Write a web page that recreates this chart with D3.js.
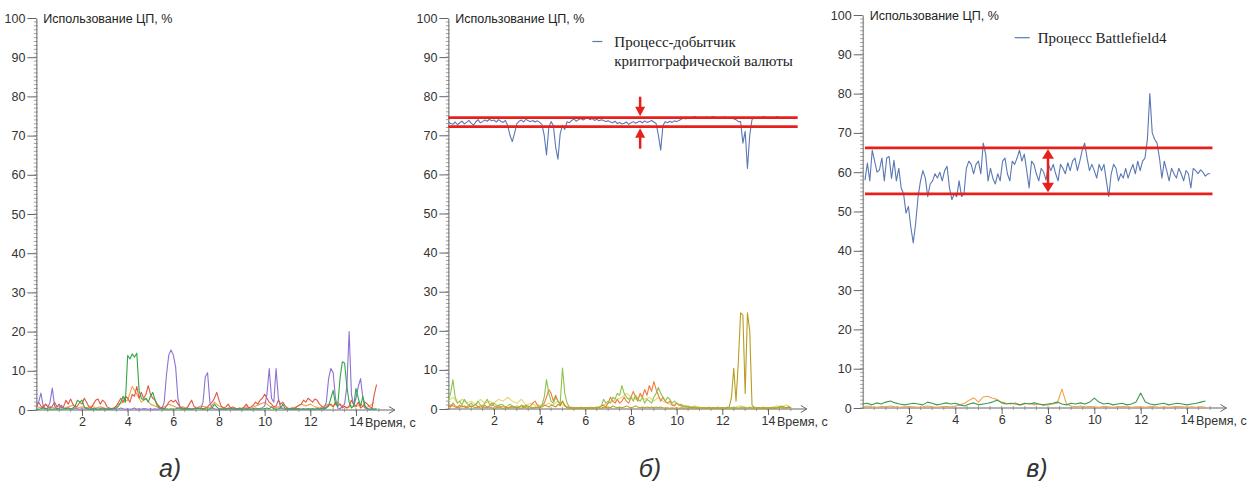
<!DOCTYPE html>
<html>
<head>
<meta charset="utf-8">
<script src="https://cdn.jsdelivr.net/npm/d3@7"></script>
<style>
  body { margin: 0; background: #fff; }
  svg { display: block; }
  .axis text { font-family: "Liberation Sans", Arial, sans-serif; font-size: 12.5px; fill: #333; }
  .axis line, .axis path { stroke: #666; }
</style>
</head>
<body>
<script>
// ---- data ----
var xTicks = [2, 4, 6, 8, 10, 12, 14];
var yTicks = [0, 10, 20, 30, 40, 50, 60, 70, 80, 90, 100];
var yTitle = "Использование ЦП, %";
var xTitle = "Время, с";
var panelLabels = ["а)", "б)", "в)"];
var minerName = ["Процесс-добытчик", "криптографической валюты"];
var gameName = "Процесс Battlefield4";
var minerBand = [72.2, 74.5];
var gameBand = [54.5, 66.2];

// panel a, samples every 0.1 s from 0 s
var aPurple = [0.5,2,4.3,1,0.3,0.5,2,5.6,1,0.3, 0.5,1.2,0.4,0.3,0.6,0.3,0.2,0.5,0.3,0.2,
  0.3,0.2,0.5,0.3,0.2,0.4,0.3,0.2,0.3,0.5, 0.2,0.3,0.2,0.4,0.3,0.2,0.3,0.5,0.3,0.2,
  0.3,0.2,0.3,0.5,0.2,0.3,0.2,0.4,0.3,0.2, 0.3,0.2,0.3,0.2,0.4,0.3,2,9,14,15.3,
  14,11,3,0.5,0.3,0.2,0.4,0.3,0.2,0.3, 0.3,0.5,0.3,2,8.5,9.5,2,0.5,0.3,0.2,
  0.2,0.3,0.2,0.3,0.2,0.4,0.3,0.2,0.3,0.2, 0.3,0.2,0.4,0.3,0.2,0.3,0.5,0.3,0.4,0.6,
  1,4,10.6,3,2,10.6,3,0.5,0.3,0.2, 0.3,0.2,0.3,0.2,0.4,0.3,0.2,0.3,0.2,0.3,
  0.2,0.3,0.2,0.4,0.3,0.5,0.3,2,8,10.6, 9.5,3,0.5,0.3,1,1.5,6,20,4,1,
  3,6,8,3,0.5,0.3,0.2,0.3,0.2,0.3];
var aGreen = [0.3,0.2,0.3,0.5,0.3,0.2,0.3,0.2,0.3,0.2, 0.3,0.2,0.3,0.4,0.3,0.2,0.5,1,2.5,2,
  2.5,0.8,0.3,0.2,0.3,0.2,0.3,0.2,0.3,0.2, 0.3,0.2,0.3,0.2,0.3,0.5,1,2,3.5,2,
  13.9,13,14.3,13.5,14.5,5,3,2.5,3,2, 3.5,4.5,2.5,1,0.5,0.3,0.2,0.3,0.2,0.3,
  0.2,0.3,0.5,0.3,0.2,0.3,0.2,0.3,0.2,0.3, 0.3,0.5,0.3,0.2,0.3,0.2,0.3,0.5,1.5,0.8,
  0.3,0.2,0.3,0.2,0.5,0.3,0.2,0.3,0.2,0.3, 0.2,0.3,0.2,0.3,0.2,0.3,0.2,0.3,0.2,0.3,
  0.3,0.5,0.3,0.8,0.3,0.2,0.3,0.5,1.5,0.3, 0.2,0.3,0.2,0.3,0.2,0.3,0.2,0.3,0.2,0.3,
  0.2,0.3,0.2,0.3,0.2,0.3,0.2,0.5,1,3, 5,1.5,1,8,12.3,12,6,2,0.5,1,
  5.5,3,1,3.5,1,0.3,0.2,0.3,0.2,0.3];
var aRed = [1,2,1,0.5,1.5,0.8,0.5,1,2,0.8, 1.5,0.5,1,2.5,1.5,2.8,1.5,0.8,1,2,
  1.5,3,2,0.8,0.5,1.5,2.5,2.8,1.5,2.5, 2,0.8,0.5,0.3,0.5,1,2,3,2,3.5,
  3,2,4,3.5,6,3,4.5,3,4,6.2, 4,3,2.5,1.5,0.8,0.5,0.3,1,2,2.5,
  2,2.5,1.5,0.8,0.5,0.3,0.5,1.5,2.5,1, 0.5,0.3,0.5,0.3,0.5,0.8,1.5,2,3,4.5,
  2.5,1,0.5,0.8,1.5,0.5,0.8,0.5,0.3,0.5, 0.3,0.8,1.5,0.5,0.8,1.2,2,1.5,2.5,3,
  4,3,2,1.5,0.8,1,2.5,1.5,2,1, 0.5,0.3,0.5,0.3,0.8,1.2,1.5,2.5,2,3,
  2.5,2,2.8,2.5,1.5,1,0.5,0.8,1.2,1.5, 0.8,2,1,1.5,0.5,1,0.5,1,2.5,1.5,
  1,2,0.5,1,2,1.5,0.8,0.5,4,6.5];
// every 0.2 s
var aOrange = [1,0.5,1.5,0.8,0.5,1,0.5,0.8,1.2,0.5, 0.8,0.5,1,0.5,0.8,0.5,0.3,0.5,1.5,2,
  2.5,6,4,2,3,1.5,1,0.5,0.8,1.5, 1,0.5,0.8,0.5,0.3,0.5,1,0.8,0.5,2,
  1,0.5,0.3,0.5,0.3,0.5,0.8,0.5,1,1.5, 2,1,0.5,0.8,0.5,0.3,0.5,0.8,1.5,1,
  1.5,0.8,0.5,1,1.5,0.8,2,1,0.5,1, 0.8,1.5,0.5,1,2];

// panel b, miner process every 0.1 s from 0 s
var bBlue = [73.5,73,72.8,73.4,72.7,73.2,73.6,72.9,73.3,73.8, 73.1,72.6,73.4,74,73.2,73.5,73.9,73.6,74.1,73.7,
  73.9,73.4,74,73.6,73.3,73.8,72.5,70,68.4,70.5, 73,73.6,73.9,73.4,74.1,73.7,73.5,73.8,73.4,73.7,
  73.3,72.8,70,65,72,73.5,72.5,67,63.9,70.5, 72.5,71.5,73.5,73.2,73.8,74.2,73.6,74,74.3,73.9,
  74.2,74.5,74,74.3,73.8,74.1,73.7,74,73.8,73.5, 73.7,73.4,73.2,73.6,73,73.3,72.9,73.1,73.4,72.8,
  73.2,73.5,73.1,73.4,73.6,73.2,73.7,73.3,73.5,73.8, 73.4,73,70,66.2,72.5,73.5,73.2,73.6,73.3,73.7,
  73.5,73.8,74.1,74.4,74.2,74.6,74.3,74.5,74.8,74.4, 74.6,74.3,74.5,74.7,74.4,74.6,74.8,74.5,74.3,74.6,
  74.4,74.7,74.5,74.3,74.6,74.2,74,73.5,73.5,68, 71,61.5,70,74,74.5,74.3,74.6,74.4,74.8,74.5,
  74.3,74.6,74.4,74.5,74.8,74.3,74.5,74.6,74.4,74.5, 74.6,74.4,74.5];
var bOlive = [0.5,1,0.8,0.5,0.3,0.5,0.8,0.5,0.3,0.5, 0.8,0.5,0.3,0.5,0.3,0.2,0.5,0.3,0.5,0.3,
  0.2,0.3,0.5,0.3,0.2,0.3,0.2,0.3,0.5,0.3, 0.2,0.3,0.2,0.5,0.3,0.2,0.3,0.2,0.3,0.5,
  0.3,0.5,1,0.8,0.5,1,0.8,0.5,1.2,0.8, 2,0.8,0.3,0.2,0.3,0.2,0.3,0.2,0.3,0.2,
  0.3,0.2,0.3,0.2,0.3,0.2,0.3,0.2,0.5,0.3, 0.5,0.3,0.8,0.5,0.3,0.5,0.3,0.5,0.8,0.5,
  0.3,0.5,0.8,0.5,0.3,0.5,0.3,0.5,0.3,0.5, 0.3,0.5,0.3,0.5,0.3,0.2,0.3,0.2,0.3,0.2,
  0.3,0.2,0.3,0.2,0.3,0.2,0.3,0.2,0.3,0.2, 0.3,0.2,0.3,0.2,0.3,0.2,0.3,0.2,0.3,0.2,
  0.3,0.2,0.3,0.5,3,10.4,2,12,24.6,24, 4,24.6,20,1,0.3,0.2,0.3,0.2,0.3,0.2,
  0.3,0.2,0.3,0.2,0.3,0.5,0.8,0.5,0.3,0.5, 0.3];
var bGreen = [2,4,7.5,3,1.5,2,1,2.5,1.5,1, 1.5,0.8,1.2,2,1,0.8,1.5,2.5,1.2,0.8,
  1.5,1,0.8,1.2,1,0.5,0.8,1.2,0.8,0.5, 0.8,0.5,1,0.8,0.5,0.8,0.5,0.3,0.5,0.3,
  0.5,1,3,7.5,4,2,1.5,3,2,1.5, 10.5,4,1.5,0.5,0.3,0.2,0.3,0.2,0.3,0.2,
  0.3,0.2,0.3,0.2,0.3,0.5,0.3,0.8,2.5,1.5, 2,1.5,3,2.5,4,3.5,6,4,3,2.5,
  3,2,3.5,2.5,2,3,1.5,2.5,2,1.5, 3,4,5.5,4,3,2,3,2.5,1.5,2,
  1.5,1,1.2,0.8,0.5,0.8,0.5,0.3,0.5,0.3, 0.3,0.2,0.3,0.2,0.3,0.2,0.3,0.2,0.3,0.2,
  0.3,0.2,0.3,0.2,0.3,0.5,0.3,0.2,0.3,0.5, 0.3,0.2,0.5,0.3,0.2,0.3,0.2,0.3,0.2,0.3,
  0.2,0.3,0.2,0.3,0.2,0.3,0.5,0.3,0.2,0.3, 0.2];
var bOrange = [1,0.5,1.5,0.8,0.5,1,0.5,0.8,0.5,1, 0.5,0.8,1.2,0.5,0.8,0.5,1,0.5,0.8,1.5,
  0.8,0.5,1,0.5,0.8,0.5,0.3,0.5,0.8,0.5, 0.3,0.5,0.8,0.5,1,0.5,0.8,1.5,2,1,
  0.5,1,1.5,3,5,4,2,3.5,2,1, 2,1,0.5,0.3,0.2,0.3,0.2,0.3,0.2,0.3,
  0.2,0.3,0.2,0.3,0.2,0.3,0.5,0.8,1,0.5, 1.5,3,2,1.5,2.5,1.5,2,3,2,1.5,
  3,4.5,3,2,4,3,5,3.5,6,4.5, 7,5,3.5,2,3,2,1.5,2,1,0.8,
  1.5,1,0.8,0.5,0.8,0.5,0.3,0.5,0.3,0.2, 0.3,0.2,0.3,0.2,0.3,0.2,0.3,0.2,0.3,0.2,
  0.3,0.2,0.3,0.2,0.3,0.2,0.3,0.2,0.3,0.2, 0.3,0.2,0.3,0.2,0.3,0.2,0.3,0.2,0.3,0.2,
  0.3,0.2,0.3,0.2,0.3,0.5,0.3,0.2,0.3,0.5, 0.3];
// every 0.2 s
var bYellow = [2,3,1.5,2.5,1.5,2,1,2.5,1.5,2, 1.5,2.5,2,3,2,1.5,2.5,1,1.5,1,
  1,0.8,1.5,1,2,1,0.5,0.5,0.3,0.5, 0.3,0.5,0.3,0.5,1,1.5,2,2.5,3,4,
  3,2.5,3.5,2.5,3,2,3,2,1.5,1, 1.5,1,0.8,0.5,0.8,0.5,0.3,0.5,0.3,0.5,
  0.3,0.5,0.3,0.5,0.8,0.5,0.3,0.5,0.3,0.5, 0.3,0.5,0.8,0.5,1,0.5];

// panel c, Battlefield4 process, evenly spaced from 0.1 s to 15.0 s
var cBlue = [58,62.3,57.8,65.6,62.8,60,60.6,63.6,57.8,63.6, 64,58.4,63,57.8,61,56,54.5,49.6,51.3,46,
  42,47,53.8,57.8,60.4,58.5,53.8,57,57.8,59.6, 58.5,60,57.8,60.4,61.5,56,53,54.5,53.8,57.8,
  53.8,54.5,61,62.8,62,59.6,62,62.8,59.6,67.4, 64.6,57.8,61,58.4,57,59.6,57.8,62.8,63.6,59.6,
  57.8,62.8,62,63.6,65.6,62.8,64.6,60.4,56,62.8, 62,
  59.6,57.8,61,60,58,62,60.4,62,59.6,57.8, 62,61,59.6,62.4,60.4,62.8,63.6,60.4,62.8,65.6,
  67.4,63.6,60.4,62,60.4,58.5,62,60.4,62,57.8, 53.8,59.6,62,61,57.8,59.6,58.5,61,58.5,60.4,
  62,59.6,62.8,60.4,62.8,63.6,68.4,80,70,68.4, 67.4,63.6,58.5,62.8,60.4,57.8,61,59.6,58.5,61,
  59.6,57.8,60.4,59.6,56,61,60.4,59.6,60.6,60, 59,59.6,59.6];
// every 0.2 s
var cGreen = [1,1.2,0.8,1.3,1,1.5,1.8,1.3,1,0.8, 1,1.2,1,0.8,1.5,1.2,0.8,1,1.3,1,
  1.2,0.8,0.5,1,1.3,0.8,1,1.2,1.5,2, 1.3,1,1.2,1,0.8,1.2,1,1.3,1,0.8,
  1,1.2,1.5,1,0.8,1.2,1,1.3,1,1.5, 2.5,1.5,1,1.2,0.8,1,1.2,0.8,1,1.5,
  3.8,1.5,1,0.8,1,1.2,0.8,1,1.2,1, 0.8,1,1.2,1.5,1.8];
var cOrange = [0.3,0.5,0.3,0.2,0.4,0.3,0.5,0.3,0.2,0.3, 0.4,0.3,0.2,0.3,0.5,0.3,0.2,0.3,0.4,0.3,
  0.5,0.8,1.2,2,2.6,1.5,2.8,3,2.5,2.2, 1.5,1.2,1,1.3,0.8,1,1.2,0.8,1,0.7,
  0.8,1,1.2,4.8,1,0.5,0.3,0.5,0.3,0.4, 0.3,0.2,0.4,0.3,0.2,0.3,0.4,0.3,0.2,0.3,
  0.3,0.2,0.4,0.3,0.2,0.3,0.2,0.3,0.4,0.3, 0.2,0.3,0.2,0.3,0.2];

// ---- layout ----
var W = 1248, H = 481;
var blue = "#5a78b3";
var panels = [
  { xr: [82, 356], yr: [410, 18], label: 170,
    series: [
      { v: aOrange, t0: 0, dt: 0.2, c: "#f3a14a" },
      { v: aRed, t0: 0, dt: 0.1, c: "#e4553f" },
      { v: aPurple, t0: 0, dt: 0.1, c: "#8e72d2" },
      { v: aGreen, t0: 0, dt: 0.1, c: "#2fa845" }
    ] },
  { xr: [494, 768], yr: [409, 18], label: 650,
    series: [
      { v: bYellow, t0: 0, dt: 0.2, c: "#e8d878" },
      { v: bOrange, t0: 0, dt: 0.1, c: "#f27a3c" },
      { v: bGreen, t0: 0, dt: 0.1, c: "#8cc44c" },
      { v: bOlive, t0: 0, dt: 0.1, c: "#bb9c22" },
      { v: bBlue, t0: 0, dt: 0.1, c: blue }
    ],
    band: minerBand, bandT: [0, 15.3], arrowT: 8.4 },
  { xr: [909, 1187], yr: [408, 15], label: 1037,
    series: [
      { v: cOrange, t0: 0, dt: 0.2, c: "#f2a24c" },
      { v: cGreen, t0: 0, dt: 0.2, c: "#3f9a52" },
      { v: cBlue, t0: 0.1, dt: 14.9 / 143, c: blue }
    ],
    band: gameBand, bandT: [0.1, 15.1], arrowT: 8.0 }
];

var svg = d3.select("body").append("svg")
  .attr("width", W).attr("height", H);
svg.append("rect").attr("width", W).attr("height", H).attr("fill", "#fff");

var red = "#e8201c";
var sans = "Liberation Sans, Arial, sans-serif";
var serif = "Liberation Serif, Times New Roman, serif";

panels.forEach(function(p, pi) {
  var x = d3.scaleLinear().domain([2, 14]).range(p.xr);
  var y = d3.scaleLinear().domain([0, 100]).range(p.yr);
  var g = svg.append("g");

  // y axis with minor ticks every 1 %
  g.append("g").attr("class", "axis")
    .attr("transform", "translate(" + x(0) + ",0)")
    .call(d3.axisLeft(y).tickValues(yTicks).tickSize(9).tickSizeOuter(0).tickPadding(2));
  g.append("g").selectAll("line").data(d3.range(0, 100, 1)).join("line")
    .attr("x1", x(0) - 2.5).attr("x2", x(0) + 1.5)
    .attr("y1", function(d) { return y(d); }).attr("y2", function(d) { return y(d); })
    .attr("stroke", "#888").attr("stroke-width", 0.8);

  // x axis with arrow
  var xEnd = x(15.7);
  g.append("line").attr("x1", x(0)).attr("x2", xEnd)
    .attr("y1", y(0)).attr("y2", y(0)).attr("stroke", "#666");
  g.append("path")
    .attr("d", "M" + (xEnd - 6) + "," + (y(0) - 3.5) + "L" + xEnd + "," + y(0) + "L" + (xEnd - 6) + "," + (y(0) + 3.5))
    .attr("fill", "none").attr("stroke", "#666");
  g.append("g").selectAll("line").data(d3.range(0.5, 15.5, 0.5)).join("line")
    .attr("x1", function(d) { return x(d); }).attr("x2", function(d) { return x(d); })
    .attr("y1", y(0) - 2).attr("y2", y(0) + 2)
    .attr("stroke", "#888").attr("stroke-width", 0.8);
  g.append("g").attr("class", "axis")
    .attr("transform", "translate(0," + y(0) + ")")
    .call(d3.axisBottom(x).tickValues(xTicks).tickSize(6).tickSizeOuter(0).tickPadding(1))
    .call(function(a) { a.select(".domain").remove(); });

  g.append("text").attr("x", x(14) + 9).attr("y", y(0) + 17)
    .style("font-family", sans).style("font-size", "12.5px")
    .attr("fill", "#333").text(xTitle);

  g.append("text").attr("x", x(0) + 7).attr("y", y(100) + 4.5)
    .style("font-family", sans).style("font-size", "12.5px")
    .attr("fill", "#222").text(yTitle);

  // series
  p.series.forEach(function(s) {
    var line = d3.line()
      .x(function(d, i) { return x(s.t0 + i * s.dt); })
      .y(function(d) { return y(d); });
    g.append("path").datum(s.v).attr("d", line)
      .attr("fill", "none").attr("stroke", s.c).attr("stroke-width", 1.1)
      .attr("stroke-linejoin", "round");
  });

  // red band + arrows
  if (p.band) {
    p.band.forEach(function(b) {
      g.append("line").attr("x1", x(p.bandT[0])).attr("x2", x(p.bandT[1]))
        .attr("y1", y(b)).attr("y2", y(b))
        .attr("stroke", red).attr("stroke-width", 2.7);
    });
    var ax = x(p.arrowT), lo = y(p.band[0]), hi = y(p.band[1]);
    if (pi === 1) {
      g.append("line").attr("x1", ax).attr("x2", ax).attr("y1", hi - 21).attr("y2", hi - 8)
        .attr("stroke", red).attr("stroke-width", 2.5);
      g.append("path").attr("d", "M" + (ax - 5) + "," + (hi - 11) + "L" + (ax + 5) + "," + (hi - 11) + "L" + ax + "," + (hi - 1.5) + "Z")
        .attr("fill", red);
      g.append("line").attr("x1", ax).attr("x2", ax).attr("y1", lo + 22).attr("y2", lo + 8)
        .attr("stroke", red).attr("stroke-width", 2.5);
      g.append("path").attr("d", "M" + (ax - 5) + "," + (lo + 11) + "L" + (ax + 5) + "," + (lo + 11) + "L" + ax + "," + (lo + 1.5) + "Z")
        .attr("fill", red);
    } else {
      g.append("line").attr("x1", ax).attr("x2", ax).attr("y1", hi + 8).attr("y2", lo - 8)
        .attr("stroke", red).attr("stroke-width", 2.5);
      g.append("path").attr("d", "M" + (ax - 6) + "," + (hi + 11) + "L" + (ax + 6) + "," + (hi + 11) + "L" + ax + "," + (hi + 1.5) + "Z")
        .attr("fill", red);
      g.append("path").attr("d", "M" + (ax - 6) + "," + (lo - 11) + "L" + (ax + 6) + "," + (lo - 11) + "L" + ax + "," + (lo - 1.5) + "Z")
        .attr("fill", red);
    }
  }

  // panel label
  svg.append("text").attr("x", p.label).attr("y", 477)
    .attr("text-anchor", "middle")
    .style("font-family", sans).style("font-size", "25px")
    .style("font-style", "italic").attr("fill", "#333").text(panelLabels[pi]);

  // legends
  if (pi === 1) {
    g.append("line").attr("x1", x(0) + 144).attr("x2", x(0) + 154)
      .attr("y1", 41.5).attr("y2", 41.5).attr("stroke", blue).attr("stroke-width", 1.2);
    g.selectAll(".leg").data(minerName).join("text").attr("class", "leg")
      .attr("x", x(0) + 166).attr("y", function(d, i) { return 46.5 + i * 19; })
      .style("font-family", serif).style("font-size", "15px").attr("fill", "#222")
      .text(function(d) { return d; });
  }
  if (pi === 2) {
    g.append("line").attr("x1", x(0) + 152).attr("x2", x(0) + 167)
      .attr("y1", 37.7).attr("y2", 37.7).attr("stroke", blue).attr("stroke-width", 1.2);
    g.append("text").attr("x", x(0) + 175).attr("y", 42.7)
      .style("font-family", serif).style("font-size", "15px").attr("fill", "#222")
      .text(gameName);
  }
});
</script>
</body>
</html>
